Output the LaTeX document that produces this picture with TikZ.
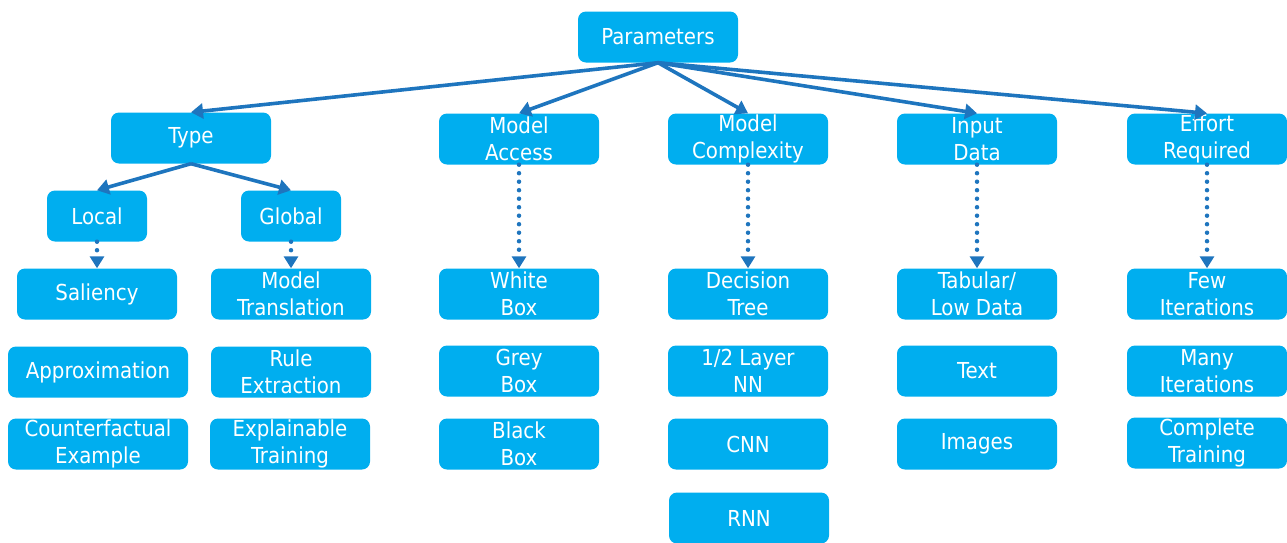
\documentclass[tikz,border=0pt]{standalone}
\usepackage{fontspec}
\setmainfont{DejaVu Sans Condensed}
\usetikzlibrary{arrows.meta}
\definecolor{boxcyan}{RGB}{0,174,239}
\definecolor{linkblue}{RGB}{30,117,190}
\tikzset{
  card/.style={draw=none, fill=boxcyan, rounded corners=8pt, minimum width=160pt,
    minimum height=51pt, inner sep=0pt, text=white, align=center,
    font=\fontsize{22}{27}\selectfont},
  narrowcard/.style={card, minimum width=100pt},
  widecard/.style={card, minimum width=180pt},
  link/.style={draw=linkblue, line width=3.6pt, -{Triangle[width=15pt,length=12pt]}},
  dotlink/.style={draw=linkblue, line width=4.5pt, line cap=round,
    dash pattern=on 0pt off 8.5pt, -{Triangle[width=14pt,length=12pt]}}
}
\begin{document}
\begin{tikzpicture}[x=1pt, y=-1pt]
\useasboundingbox (0,0) rectangle (1287,542);

% root
\node[card] (params) at (658,37) {Parameters};

% first level
\node[card] (type)   at (191,138) {Type};
\node[card] (access) at (519,139) {Model\\Access};
\node[card] (cplx)   at (748,139) {Model\\Complexity};
\node[card] (input)  at (977,139) {Input\\Data};
\node[card] (effort) at (1207,139) {Effort\\Required};

% type branch
\node[narrowcard] (local)  at (97,216) {Local};
\node[narrowcard] (global) at (291,216) {Global};
\node[card] (saliency) at (97,294) {Saliency};
\node[card] (mtrans)   at (291,294) {Model\\Translation};
\node[widecard] (approx) at (98,372) {Approximation};
\node[card] (rule)     at (291,372) {Rule\\Extraction};
\node[widecard] (cfact) at (98,444) {Counterfactual\\Example};
\node[card] (xtrain)   at (290,444) {Explainable\\Training};

% model access
\node[card] (white) at (519,294) {White\\Box};
\node[card] (grey)  at (519,371) {Grey\\Box};
\node[card] (black) at (519,444) {Black\\Box};

% model complexity
\node[card] (dtree) at (748,294) {Decision\\Tree};
\node[card] (layer) at (748,371) {1/2 Layer\\NN};
\node[card] (cnn)   at (748,444) {CNN};
\node[card] (rnn)   at (749,518) {RNN};

% input data
\node[card] (tab)    at (977,294) {Tabular/\\Low Data};
\node[card] (text)   at (977,371) {Text};
\node[card] (images) at (977,444) {Images};

% effort required
\node[card] (few)      at (1207,294) {Few\\Iterations};
\node[card] (many)     at (1207,371) {Many\\Iterations};
\node[card] (complete) at (1207,443) {Complete\\Training};

% solid links
\foreach \t in {type,access,cplx,input,effort}
  \draw[link] (params.south) -- (\t.north);
\draw[link] (type.south) -- (local.north);
\draw[link] (type.south) -- (global.north);

% dotted links
\draw[dotlink] (local.south) -- (saliency.north);
\draw[dotlink] (global.south) -- (mtrans.north);
\draw[dotlink] (access.south) -- (white.north);
\draw[dotlink] (cplx.south) -- (dtree.north);
\draw[dotlink] (input.south) -- (tab.north);
\draw[dotlink] (effort.south) -- (few.north);
\end{tikzpicture}
\end{document}
